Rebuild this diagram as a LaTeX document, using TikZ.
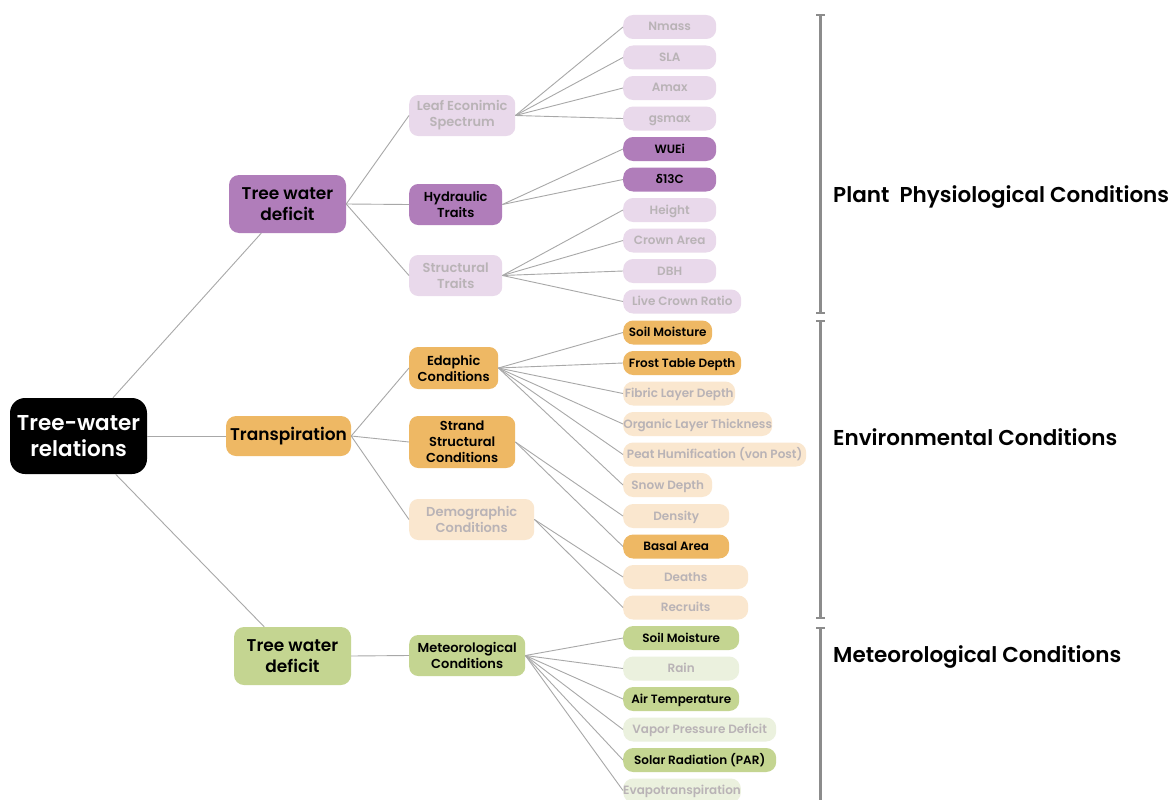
\documentclass[tikz,border=0pt]{standalone}
\usepackage{fontspec}
\setmainfont{Poppins}[BoldFont={Poppins SemiBold}]
\newfontfamily\greekfont{Open Sans}
\definecolor{pd}{HTML}{B07DBA}
\definecolor{pl}{HTML}{E9D9EB}
\definecolor{od}{HTML}{EEB864}
\definecolor{ol}{HTML}{FAE7CF}
\definecolor{gd}{HTML}{C4D591}
\definecolor{gl}{HTML}{EBF1DE}
\definecolor{lt}{HTML}{B9B3B6}
\definecolor{ln}{HTML}{A8A8A8}
\definecolor{br}{HTML}{8C8C8C}
\tikzset{
  base/.style={rectangle, inner sep=0pt, align=center},
  rootn/.style={base, fill=black, text=white, rounded corners=15pt, font=\fontsize{21.5}{26}\selectfont\bfseries},
  lone/.style={base, rounded corners=10pt, text=black, font=\fontsize{17}{21}\selectfont\bfseries},
  ltwo/.style={base, anchor=west, rounded corners=9pt, minimum height=41pt, font=\fontsize{13}{16}\selectfont\bfseries},
  leaf/.style={base, anchor=west, rounded corners=10pt, minimum height=24pt, text height=10pt, text depth=2pt, font=\fontsize{12}{14}\selectfont\bfseries},
  dk/.style={text=black},
  lg/.style={text=lt},
  conn/.style={draw=ln, line width=0.9pt},
  brk/.style={draw=br, line width=2.2pt},
  lab/.style={anchor=west, inner sep=0pt, font=\fontsize{21.5}{25}\selectfont\bfseries}
}
\begin{document}
\begin{tikzpicture}[x=1pt,y=-1pt]
\useasboundingbox (0,0) rectangle (1172,800);
\fill[white] (0,0) rectangle (1172,800);
% root and level 1
\node[rootn, minimum width=137pt, minimum height=76pt] (root) at (78.5,436) {Tree-water\\relations};
\node[lone, fill=pd, minimum width=117pt, minimum height=58pt] (a) at (287.5,204) {Tree water\\deficit};
\node[lone, fill=od, minimum width=125pt, minimum height=40pt] (b) at (288.5,436) {Transpiration};
\node[lone, fill=gd, minimum width=117pt, minimum height=58pt] (c) at (292.5,656) {Tree water\\deficit};
% level 2
\node[ltwo, fill=pl, lg, minimum width=106pt] (a1) at (409,115.5) {Leaf Econimic\\Spectrum};
\node[ltwo, fill=pd, dk, minimum width=93pt] (a2) at (409,204.5) {Hydraulic\\Traits};
\node[ltwo, fill=pl, lg, minimum width=93pt] (a3) at (409,275.5) {Structural\\Traits};
\node[ltwo, fill=od, dk, minimum width=89pt, minimum height=42pt] (b1) at (409,368) {Edaphic\\Conditions};
\node[ltwo, fill=od, dk, minimum width=106pt, minimum height=52pt] (b2) at (409,442) {Strand\\Structural\\Conditions};
\node[ltwo, fill=ol, lg, minimum width=125pt] (b3) at (409,519.5) {Demographic\\Conditions};
\node[ltwo, fill=gd, dk, minimum width=116pt] (c1) at (409,655.5) {Meteorological\\Conditions};
% leaves
\node[leaf, fill=pl, lg, minimum width=93pt] (l1) at (623,27) {Nmass};
\node[leaf, fill=pl, lg, minimum width=93pt] (l2) at (623,57.5) {SLA};
\node[leaf, fill=pl, lg, minimum width=93pt] (l3) at (623,88) {Amax};
\node[leaf, fill=pl, lg, minimum width=93pt] (l4) at (623,118.5) {gsmax};
\node[leaf, fill=pd, dk, minimum width=93pt] (l5) at (623,149) {WUEi};
\node[leaf, fill=pd, dk, minimum width=93pt] (l6) at (623,179.5) {{\greekfont\bfseries δ}13C};
\node[leaf, fill=pl, lg, minimum width=93pt] (l7) at (623,210) {Height};
\node[leaf, fill=pl, lg, minimum width=93pt] (l8) at (623,240.5) {Crown Area};
\node[leaf, fill=pl, lg, minimum width=93pt] (l9) at (623,271) {DBH};
\node[leaf, fill=pl, lg, minimum width=118pt] (l10) at (623,301.5) {Live Crown Ratio};
\node[leaf, fill=od, dk, minimum width=89pt] (l11) at (623,332.5) {Soil Moisture};
\node[leaf, fill=od, dk, minimum width=118pt] (l12) at (623,363) {Frost Table Depth};
\node[leaf, fill=ol, lg, minimum width=112pt] (l13) at (623,393.5) {Fibric Layer Depth};
\node[leaf, fill=ol, lg, minimum width=149pt] (l14) at (623,424) {Organic Layer Thickness};
\node[leaf, fill=ol, lg, minimum width=183pt] (l15) at (623,454.5) {Peat Humification (von Post)};
\node[leaf, fill=ol, lg, minimum width=89pt] (l16) at (623,485) {Snow Depth};
\node[leaf, fill=ol, lg, minimum width=106pt] (l17) at (623,516) {Density};
\node[leaf, fill=od, dk, minimum width=106pt] (l18) at (623,546.5) {Basal Area};
\node[leaf, fill=ol, lg, minimum width=125pt] (l19) at (623,577) {Deaths};
\node[leaf, fill=ol, lg, minimum width=125pt] (l20) at (623,607.5) {Recruits};
\node[leaf, fill=gd, dk, minimum width=116pt] (l21) at (623,638) {Soil Moisture};
\node[leaf, fill=gl, lg, minimum width=116pt] (l22) at (623,668.5) {Rain};
\node[leaf, fill=gd, dk, minimum width=116pt] (l23) at (623,699) {Air Temperature};
\node[leaf, fill=gl, lg, minimum width=153pt] (l24) at (623,729.5) {Vapor Pressure Deficit};
\node[leaf, fill=gd, dk, minimum width=153pt] (l25) at (623,760) {Solar Radiation (PAR)};
\node[leaf, fill=gl, lg, minimum width=116pt] (l26) at (623,790.5) {Evapotranspiration};
% connectors
\draw[conn] (root) -- (a);
\draw[conn] (root) -- (b);
\draw[conn] (root) -- (c);
\foreach \t in {a1,a2,a3} \draw[conn] (a.east) -- (\t.west);
\foreach \t in {b1,b2,b3} \draw[conn] (b.east) -- (\t.west);
\draw[conn] (c.east) -- (c1.west);
\foreach \t in {l1,l2,l3,l4} \draw[conn] (a1.east) -- (\t.west);
\foreach \t in {l5,l6} \draw[conn] (a2.east) -- (\t.west);
\foreach \t in {l7,l8,l9,l10} \draw[conn] (a3.east) -- (\t.west);
\foreach \t in {l11,l12,l13,l14,l15,l16} \draw[conn] (b1.east) -- (\t.west);
\foreach \t in {l17,l18} \draw[conn] (b2.east) -- (\t.west);
\foreach \t in {l19,l20} \draw[conn] (b3.east) -- (\t.west);
\foreach \t in {l21,l22,l23,l24,l25,l26} \draw[conn] (c1.east) -- (\t.west);
% brackets
\coordinate (k1t) at (820.5,15);
\coordinate (k1b) at (820.5,313);
\coordinate (k2t) at (820.5,321);
\coordinate (k2b) at (820.5,618);
\coordinate (k3t) at (820.5,628);
\coordinate (k3b) at (820.5,805);
\draw[brk] (k1t) -- (k1b);
\draw[brk] (k2t) -- (k2b);
\draw[brk] (k3t) -- (k3b);
\foreach \k in {k1t,k1b,k2t,k2b,k3t} \draw[draw=br, line width=1.6pt] ([xshift=-4.5pt]\k) -- ([xshift=4.5pt]\k);
% labels
\node[lab] (t1) at (833,197) {Plant\ \ Physiological Conditions};
\node[lab] (t2) at (833,437) {Environmental Conditions};
\node[lab] (t3) at (833,657) {Meteorological Conditions};
\end{tikzpicture}
\end{document}
